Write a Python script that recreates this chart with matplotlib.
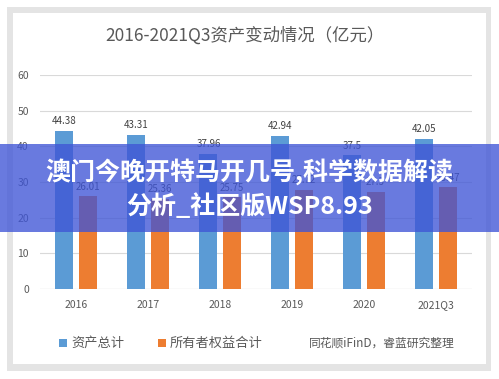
import matplotlib
matplotlib.use("Agg")
import matplotlib.pyplot as plt
import numpy as np
from matplotlib.patches import Rectangle

plt.rcParams['font.family'] = ['Noto Sans CJK SC', 'DejaVu Sans']

categories = ["2016", "2017", "2018", "2019", "2020", "2021Q3"]
total_assets = [44.38, 43.31, 37.96, 42.94, 37.5, 42.05]
equity = [26.01, 25.36, 25.75, 27.72, 27.3, 28.47]
series_names = ["资产总计", "所有者权益合计"]
title = "2016-2021Q3资产变动情况（亿元）"
source = "同花顺iFinD，睿蓝研究整理"
banner_lines = ["澳门今晚开特马开几号,科学数据解读", "分析_社区版WSP8.93"]
yticks = [0, 10, 20, 30, 40, 50, 60]

W, H = 499, 379
fig = plt.figure(figsize=(W / 100, H / 100), dpi=100)
fig.patch.set_facecolor("white")

def fx(px):
    return px / W

def fy(py):
    return 1 - py / H

# card with shadow border
fig.patches.append(Rectangle((fx(7), fy(371)), fx(484), 364 / H, transform=fig.transFigure,
                             facecolor="#e4e4e4", edgecolor="none", zorder=-2))
fig.patches.append(Rectangle((fx(13), fy(364)), fx(473), 351 / H, transform=fig.transFigure,
                             facecolor="white", edgecolor="none", zorder=-1))

ax = fig.add_axes([fx(40), fy(289), fx(432), (289 - 75) / H])
ax.set_zorder(2)
ax.set_facecolor("none")
x = np.arange(len(categories))
bw = 0.25
off = 0.16
blue = "#5B9BD5"
orange = "#ED7D31"
ax.bar(x - off, total_assets, bw, color=blue, zorder=3, label=series_names[0])
ax.bar(x + off, equity, bw, color=orange, zorder=3, label=series_names[1])
for xi, v in zip(x, total_assets):
    ax.text(xi - off, v + 1.3, f"{v:g}", ha="center", va="bottom", fontsize=7, color="#404040")
for xi, v in zip(x, equity):
    ax.text(xi + off, v + 1.3, f"{v:g}", ha="center", va="bottom", fontsize=7, color="#404040")

ax.set_xlim(-0.5, len(categories) - 0.5)
ax.set_ylim(0, 60)
ax.set_yticks(yticks)
ax.yaxis.grid(True, color="#d9d9d9", linewidth=0.8, zorder=0)
ax.set_axisbelow(True)
for s in ax.spines.values():
    s.set_visible(False)
ax.axhline(0, color="#d0d0d0", linewidth=0.8, zorder=2)
ax.tick_params(axis="both", length=0, labelsize=7.5, colors="#595959")
ax.tick_params(axis="x", pad=8)
ax.tick_params(axis="y", pad=8)
ax.set_xticks(x)
ax.set_xticklabels(categories)

fig.text(fx(245), fy(36), title, ha="center", va="center", fontsize=12.5, color="#595959")

# legend
fig.patches.append(Rectangle((fx(59), fy(347)), fx(8), 8 / H, transform=fig.transFigure,
                             facecolor=blue, edgecolor="none", zorder=3))
fig.text(fx(71), fy(343), series_names[0], ha="left", va="center", fontsize=9.5, color="#595959")
fig.patches.append(Rectangle((fx(158), fy(347)), fx(8), 8 / H, transform=fig.transFigure,
                             facecolor=orange, edgecolor="none", zorder=3))
fig.text(fx(170), fy(343), series_names[1], ha="left", va="center", fontsize=9.5, color="#595959")
fig.text(fx(455), fy(343), source, ha="right", va="center", fontsize=8.5, color="#595959")

# banner overlay
fig.patches.append(Rectangle((0, fy(232)), 1, (232 - 144) / H, transform=fig.transFigure,
                             facecolor="#3f55d6", alpha=0.78, edgecolor="none", zorder=10))
fig.text(0.5, fy(172), banner_lines[0], ha="center", va="center", fontsize=18,
         fontweight="bold", color="white", zorder=11)
fig.text(0.5, fy(206), banner_lines[1], ha="center", va="center", fontsize=18,
         fontweight="bold", color="white", zorder=11)

fig.savefig("out.png", dpi=100)
